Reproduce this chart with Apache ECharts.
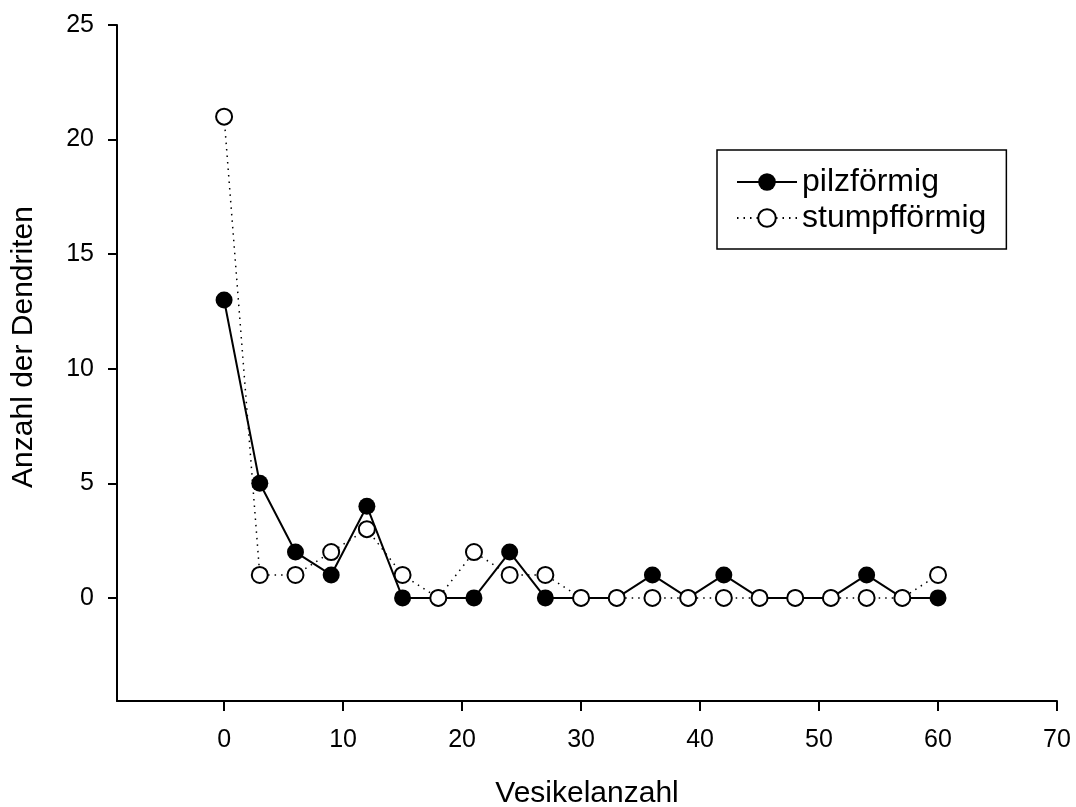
<!DOCTYPE html>
<html>
<head>
<meta charset="utf-8">
<script src="https://cdn.jsdelivr.net/npm/echarts@6/dist/echarts.min.js"></script>
<style>
  html, body { margin: 0; padding: 0; background: #fff; }
  #chart { width: 1076px; height: 807px; }
</style>
</head>
<body>
<div id="chart"></div>
<script>
// Daten
var vesikel = [0, 3, 6, 9, 12, 15, 18, 21, 24, 27, 30, 33, 36, 39, 42, 45, 48, 51, 54, 57, 60];
var pilzfoermig = [13, 5, 2, 1, 4, 0, 0, 0, 2, 0, 0, 0, 1, 0, 1, 0, 0, 0, 1, 0, 0];
var stumpffoermig = [21, 1, 1, 2, 3, 1, 0, 2, 1, 1, 0, 0, 0, 0, 0, 0, 0, 0, 0, 0, 1];
var xTicks = [0, 10, 20, 30, 40, 50, 60, 70];
var yTicks = [0, 5, 10, 15, 20, 25];

function pairs(xs, ys) {
  var out = [];
  for (var i = 0; i < xs.length; i++) out.push([xs[i], ys[i]]);
  return out;
}

var chart = echarts.init(document.getElementById('chart'));
var font = 'Liberation Sans, Arial, sans-serif';

var option = {
  animation: false,
  backgroundColor: '#fff',
  grid: { left: 117, right: 19, top: 25, bottom: 106, outerBoundsMode: 'none' },
  legend: {
    orient: 'vertical',
    left: 717,
    top: 150,
    padding: [16, 20, 15, 19],
    borderColor: '#000',
    borderWidth: 1.5,
    itemWidth: 60,
    itemHeight: 22,
    itemGap: 4,
    textStyle: { fontSize: 32, color: '#000', fontFamily: font },
    data: ['pilzförmig', 'stumpfförmig']
  },
  xAxis: {
    type: 'value',
    min: -9,
    max: 70,
    name: 'Vesikelanzahl',
    nameLocation: 'middle',
    nameGap: 78,
    nameTextStyle: { fontSize: 30, color: '#000', fontFamily: font },
    axisLine: { onZero: false, lineStyle: { color: '#000', width: 2 } },
    axisTick: { show: true, length: 10, customValues: xTicks, lineStyle: { color: '#000', width: 2 } },
    axisLabel: { customValues: xTicks, fontSize: 25, color: '#000', margin: 27, fontFamily: font },
    splitLine: { show: false }
  },
  yAxis: {
    type: 'value',
    min: -4.5,
    max: 25,
    name: 'Anzahl der Dendriten',
    nameLocation: 'middle',
    nameGap: 78,
    nameTextStyle: { fontSize: 30, color: '#000', fontFamily: font, padding: [0, 0, 0, 32] },
    axisLine: { show: true, onZero: false, lineStyle: { color: '#000', width: 2 } },
    axisTick: { show: true, length: 9, customValues: yTicks, lineStyle: { color: '#000', width: 2 } },
    axisLabel: { customValues: yTicks, fontSize: 25, color: '#000', margin: 23, fontFamily: font },
    splitLine: { show: false }
  },
  series: [
    {
      name: 'pilzförmig',
      type: 'line',
      data: pairs(vesikel, pilzfoermig),
      symbol: 'circle',
      symbolSize: 17,
      itemStyle: { color: '#000' },
      lineStyle: { color: '#000', width: 2 },
      z: 2
    },
    {
      name: 'stumpfförmig',
      type: 'line',
      data: pairs(vesikel, stumpffoermig),
      symbol: 'circle',
      symbolSize: 16,
      itemStyle: { color: '#fff', borderColor: '#000', borderWidth: 2 },
      lineStyle: { color: '#000', width: 1.5, type: [1.5, 5] },
      z: 3
    }
  ]
};

chart.setOption(option);
</script>
</body>
</html>
